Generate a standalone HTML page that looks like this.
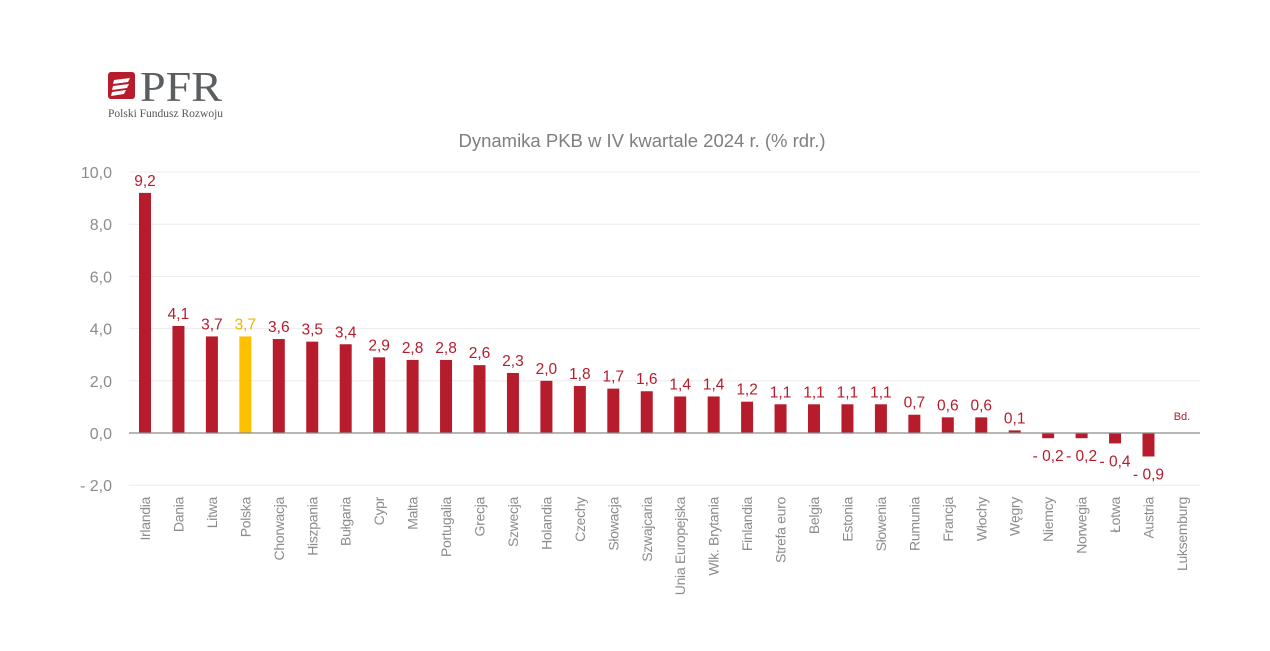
<!DOCTYPE html>
<html><head><meta charset="utf-8"><style>
body{margin:0;background:#fff;width:1270px;height:646px;overflow:hidden;font-family:"Liberation Sans","DejaVu Sans",sans-serif}
</style></head><body>
<svg id="c" width="1270" height="646" xmlns="http://www.w3.org/2000/svg" font-family="Liberation Sans, DejaVu Sans, sans-serif">
<rect x="108" y="72" width="27" height="27" rx="3" fill="#b71c2c"/>
<path d="M114 80 L130 78 L128 82 L113 84Z M113 86 L129 84 L127 88 L112 90Z M112 92 L126 90 L124 94 L111 96Z" fill="#fff"/>
<text x="140" y="101" font-family="Liberation Serif, serif" font-size="42" fill="#5a5e60" textLength="82" lengthAdjust="spacingAndGlyphs">PFR</text>
<text x="108" y="117" font-family="Liberation Serif, serif" font-size="11.5" fill="#555">Polski Fundusz Rozwoju</text>
<text x="642" y="147" text-anchor="middle" font-size="18.5" fill="#7f7f7f">Dynamika PKB w IV kwartale 2024 r. (% rdr.)</text>
<g id="g"></g>
</svg>
<script>
var g=document.getElementById('g'),h='';
var d=[["Irlandia",9.2],["Dania",4.1],["Litwa",3.7],["Polska",3.7],["Chorwacja",3.6],["Hiszpania",3.5],["Bułgaria",3.4],["Cypr",2.9],["Malta",2.8],["Portugalia",2.8],["Grecja",2.6],["Szwecja",2.3],["Holandia",2.0],["Czechy",1.8],["Słowacja",1.7],["Szwajcaria",1.6],["Unia Europejska",1.4],["Wlk. Brytania",1.4],["Finlandia",1.2],["Strefa euro",1.1],["Belgia",1.1],["Estonia",1.1],["Słowenia",1.1],["Rumunia",0.7],["Francja",0.6],["Włochy",0.6],["Węgry",0.1],["Niemcy",-0.2],["Norwegia",-0.2],["Łotwa",-0.4],["Austria",-0.9],["Luksemburg",null]];
function Y(v){return 433-26.1*v;}
[10,8,6,4,2,-2].forEach(function(v){h+='<line x1="129" x2="1200" y1="'+Y(v)+'" y2="'+Y(v)+'" stroke="#ececec" stroke-width="1"/>';});
[10,8,6,4,2,0,-2].forEach(function(v){var s=(v<0?'- '+(-v):v)+',0';h+='<text x="112" y="'+(Y(v)+6)+'" text-anchor="end" font-size="16" fill="#8c8c8c">'+s+'</text>';});
d.forEach(function(e,i){var x=145+33.45*i,v=e[1],col=i==3?'#ffc000':'#b71c2c',tc=i==3?'#f5b100':'#b71c2c';
 if(v!==null){var y=Y(v);var top=Math.min(y,433),ht=Math.abs(433-y);h+='<rect x="'+(x-6)+'" y="'+top+'" width="12" height="'+ht+'" fill="'+col+'"/>';
 var s=(v<0?'- ':'')+Math.abs(v).toFixed(1).replace('.',',');
 var ly=v<0?y+23:y-7;h+='<text x="'+x+'" y="'+ly+'" text-anchor="middle" font-size="15.5" fill="'+tc+'">'+s+'</text>';}
 else h+='<text x="'+x+'" y="420" text-anchor="middle" font-size="11" fill="#b71c2c">Bd.</text>';
 h+='<text transform="translate('+(x+5)+',497) rotate(-90)" text-anchor="end" font-size="14" fill="#8c8c8c" style="letter-spacing:-0.3px">'+e[0]+'</text>';});
h+='<line x1="129" x2="1200" y1="433" y2="433" stroke="#8a8a8a" stroke-width="1.2"/>';
g.innerHTML=h;
</script>
</body></html>
